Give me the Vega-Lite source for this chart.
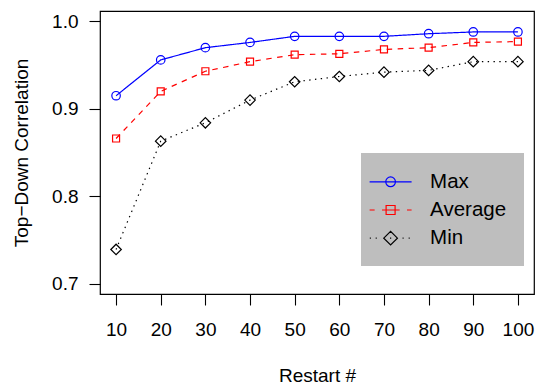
{
  "$schema": "https://vega.github.io/schema/vega-lite/v6.json",
  "width": 434,
  "height": 283,
  "autosize": "none",
  "padding": {"left": 100, "top": 11, "right": 1, "bottom": 91},
  "background": "white",
  "config": {
    "font": "Liberation Sans",
    "view": {"stroke": "black", "strokeWidth": 1.2},
    "axis": {
      "domain": false,
      "grid": false,
      "tickColor": "black",
      "tickSize": 11,
      "tickWidth": 1.1,
      "labelColor": "black",
      "labelFont": "Liberation Sans",
      "labelFontSize": 19,
      "titleFont": "Liberation Sans",
      "titleFontSize": 19,
      "titleFontWeight": "normal",
      "titleColor": "black"
    }
  },
  "data": {
    "values": [
      {"restart": 10, "series": "Max", "value": 0.915},
      {"restart": 20, "series": "Max", "value": 0.956},
      {"restart": 30, "series": "Max", "value": 0.970},
      {"restart": 40, "series": "Max", "value": 0.976},
      {"restart": 50, "series": "Max", "value": 0.983},
      {"restart": 60, "series": "Max", "value": 0.983},
      {"restart": 70, "series": "Max", "value": 0.983},
      {"restart": 80, "series": "Max", "value": 0.986},
      {"restart": 90, "series": "Max", "value": 0.988},
      {"restart": 100, "series": "Max", "value": 0.988},
      {"restart": 10, "series": "Average", "value": 0.866},
      {"restart": 20, "series": "Average", "value": 0.920},
      {"restart": 30, "series": "Average", "value": 0.943},
      {"restart": 40, "series": "Average", "value": 0.954},
      {"restart": 50, "series": "Average", "value": 0.962},
      {"restart": 60, "series": "Average", "value": 0.963},
      {"restart": 70, "series": "Average", "value": 0.968},
      {"restart": 80, "series": "Average", "value": 0.970},
      {"restart": 90, "series": "Average", "value": 0.976},
      {"restart": 100, "series": "Average", "value": 0.977},
      {"restart": 10, "series": "Min", "value": 0.739},
      {"restart": 20, "series": "Min", "value": 0.863},
      {"restart": 30, "series": "Min", "value": 0.884},
      {"restart": 40, "series": "Min", "value": 0.910},
      {"restart": 50, "series": "Min", "value": 0.931},
      {"restart": 60, "series": "Min", "value": 0.937},
      {"restart": 70, "series": "Min", "value": 0.942},
      {"restart": 80, "series": "Min", "value": 0.944},
      {"restart": 90, "series": "Min", "value": 0.954},
      {"restart": 100, "series": "Min", "value": 0.954}
    ]
  },
  "encoding": {
    "x": {
      "field": "restart",
      "type": "quantitative",
      "scale": {"domain": [6.4, 103.6], "nice": false, "zero": false},
      "axis": {
        "values": [10, 20, 30, 40, 50, 60, 70, 80, 90, 100],
        "labelPadding": 15,
        "title": "Restart #",
        "titlePadding": 27
      }
    },
    "y": {
      "field": "value",
      "type": "quantitative",
      "scale": {"domain": [0.688, 1.012], "nice": false, "zero": false},
      "axis": {
        "values": [0.7, 0.8, 0.9, 1.0],
        "format": ".1f",
        "labelPadding": 11,
        "title": "Top−Down Correlation",
        "titlePadding": 20
      }
    }
  },
  "resolve": {"scale": {"color": "independent", "shape": "independent"}},
  "layer": [
    {
      "mark": {"type": "line", "strokeWidth": 1.2},
      "encoding": {
        "color": {
          "field": "series",
          "type": "nominal",
          "scale": {"domain": ["Max", "Average", "Min"], "range": ["#0000ff", "#ff0000", "#000000"]},
          "legend": null
        },
        "strokeDash": {
          "field": "series",
          "type": "nominal",
          "scale": {"domain": ["Max", "Average", "Min"], "range": [[1, 0], [5.5, 5.5], [1.4, 4.4]]},
          "legend": null
        }
      }
    },
    {
      "transform": [{"filter": "datum.series === 'Max'"}],
      "mark": {"type": "point", "shape": "circle", "size": 72, "filled": false, "strokeWidth": 1.2, "opacity": 1},
      "encoding": {
        "color": {
          "field": "series",
          "type": "nominal",
          "scale": {"domain": ["Max", "Average", "Min"], "range": ["#0000ff", "#ff0000", "#000000"]},
          "legend": null
        }
      }
    },
    {
      "transform": [{"filter": "datum.series === 'Average'"}],
      "mark": {"type": "point", "shape": "square", "size": 49, "filled": false, "strokeWidth": 1.2, "opacity": 1},
      "encoding": {
        "color": {
          "field": "series",
          "type": "nominal",
          "scale": {"domain": ["Max", "Average", "Min"], "range": ["#0000ff", "#ff0000", "#000000"]},
          "legend": null
        }
      }
    },
    {
      "transform": [{"filter": "datum.series === 'Min'"}],
      "mark": {"type": "point", "shape": "diamond", "size": 110, "filled": false, "strokeWidth": 1.2, "opacity": 1},
      "encoding": {
        "color": {
          "field": "series",
          "type": "nominal",
          "scale": {"domain": ["Max", "Average", "Min"], "range": ["#0000ff", "#ff0000", "#000000"]},
          "legend": null
        }
      }
    },
    {
      "transform": [{"filter": "datum.restart < 0"}],
      "mark": {"type": "point", "filled": false, "strokeWidth": 1.2, "opacity": 1},
      "encoding": {
        "color": {
          "field": "series",
          "type": "nominal",
          "scale": {"domain": ["Max", "Average", "Min"], "range": ["#0000ff", "#ff0000", "#000000"]},
          "legend": {
            "title": null,
            "orient": "none",
            "legendX": 261,
            "legendY": 142,
            "fillColor": "#bebebe",
            "padding": 17.3,
            "rowPadding": 6.2,
            "symbolSize": 441,
            "symbolOffset": 0.8,
            "labelOffset": 28,
            "labelFont": "Liberation Sans",
            "labelFontSize": 20.5,
            "labelColor": "black",
            "labelLimit": 300,
            "symbolStrokeWidth": 1.2,
            "symbolFillColor": "transparent"
          }
        },
        "shape": {
          "field": "series",
          "type": "nominal",
          "scale": {
            "domain": ["Max", "Average", "Min"],
            "range": [
              "M-2,0H2M0.46,0A0.46,0.46,0,1,1,-0.46,0A0.46,0.46,0,1,1,0.46,0Z",
              "M-2,0H-1.52M-0.82,0H0.86M1.56,0H2M-0.428,-0.428H0.428V0.428H-0.428Z",
              "M-1.98,0H-1.88M-1.42,0H-1.32M-0.06,0H0.06M1.14,0H1.24M1.72,0H1.82M-0.65,0L0,-0.65L0.65,0L0,0.65Z"
            ]
          },
          "legend": {
            "title": null,
            "orient": "none",
            "legendX": 261,
            "legendY": 142,
            "fillColor": "#bebebe",
            "padding": 17.3,
            "rowPadding": 6.2,
            "symbolSize": 441,
            "symbolOffset": 0.8,
            "labelOffset": 28,
            "labelFont": "Liberation Sans",
            "labelFontSize": 20.5,
            "labelColor": "black",
            "labelLimit": 300,
            "symbolStrokeWidth": 1.2,
            "symbolFillColor": "transparent"
          }
        }
      }
    }
  ]
}
